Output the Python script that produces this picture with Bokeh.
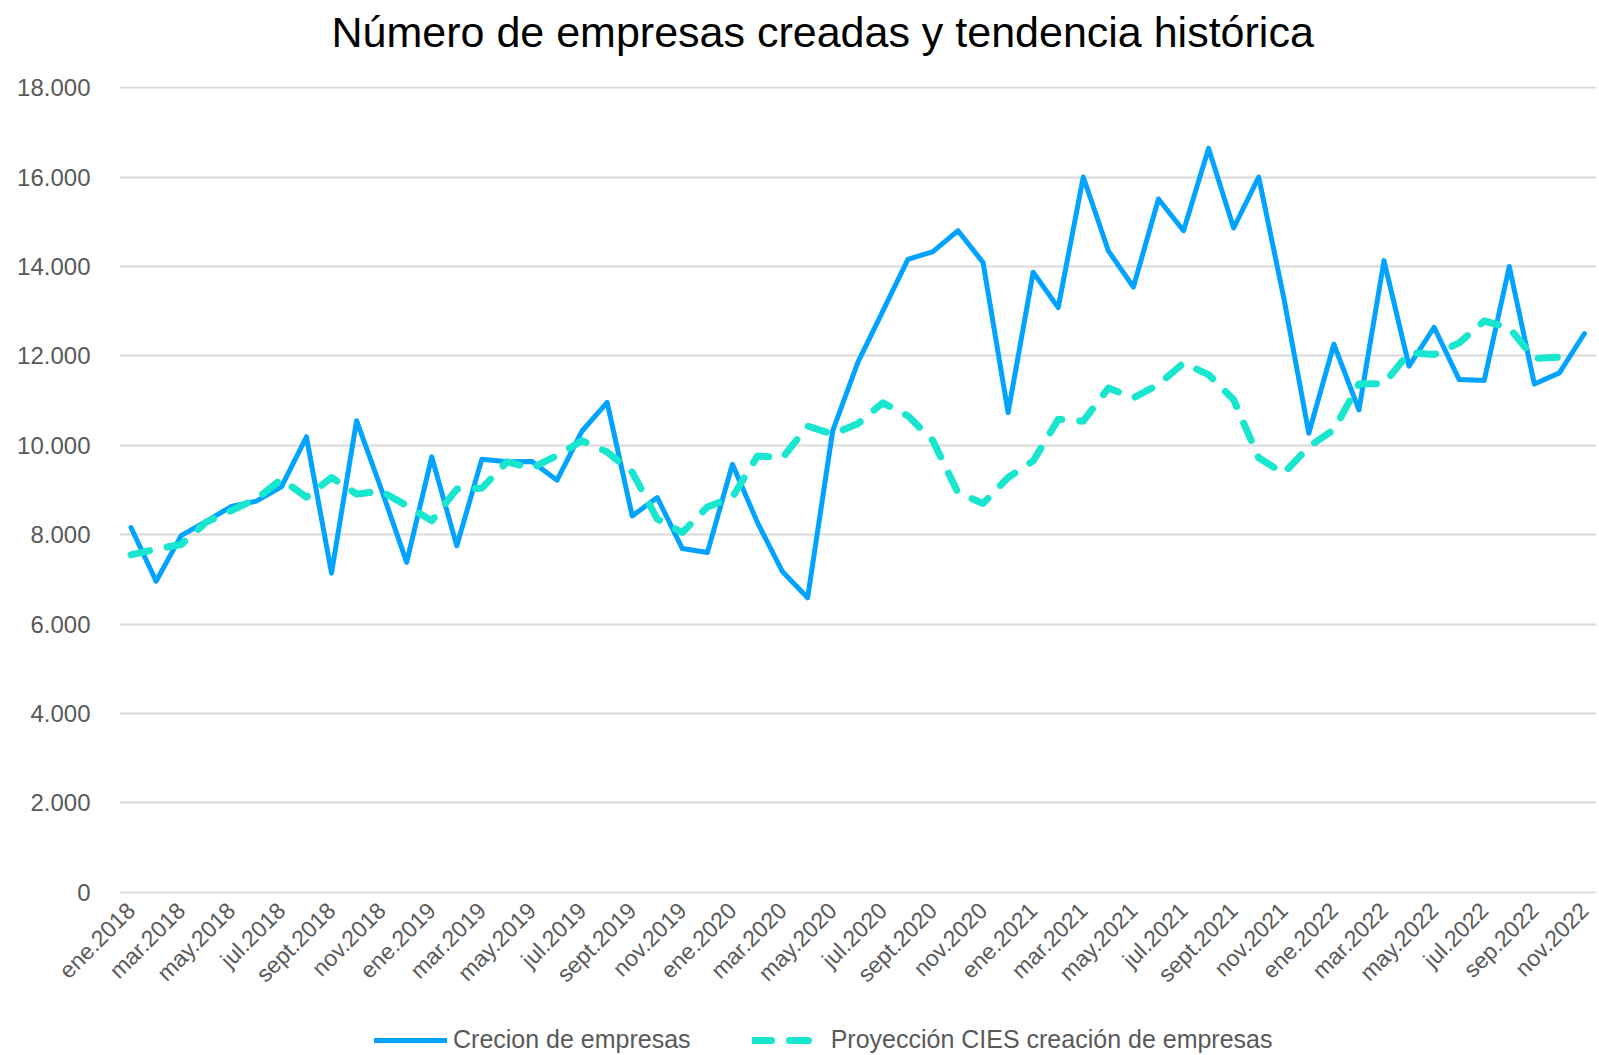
import math
from bokeh.plotting import figure
from bokeh.layouts import column
from bokeh.models import Range1d, FixedTicker, Legend, LegendItem, Title
from bokeh.embed import file_html
from bokeh.resources import INLINE

months = [
    "ene.2018", "feb.2018", "mar.2018", "abr.2018", "may.2018", "jun.2018",
    "jul.2018", "ago.2018", "sept.2018", "oct.2018", "nov.2018", "dic.2018",
    "ene.2019", "feb.2019", "mar.2019", "abr.2019", "may.2019", "jun.2019",
    "jul.2019", "ago.2019", "sept.2019", "oct.2019", "nov.2019", "dic.2019",
    "ene.2020", "feb.2020", "mar.2020", "abr.2020", "may.2020", "jun.2020",
    "jul.2020", "ago.2020", "sept.2020", "oct.2020", "nov.2020", "dic.2020",
    "ene.2021", "feb.2021", "mar.2021", "abr.2021", "may.2021", "jun.2021",
    "jul.2021", "ago.2021", "sept.2021", "oct.2021", "nov.2021", "dic.2021",
    "ene.2022", "feb.2022", "mar.2022", "abr.2022", "may.2022", "jun.2022",
    "jul.2022", "ago.2022", "sep.2022", "oct.2022", "nov.2022",
]

creacion = [
    8160, 6960, 7980, 8300, 8630, 8750, 9070, 10190, 7140, 10550,
    9000, 7380, 9740, 7750, 9690, 9630, 9640, 9220, 10320, 10960,
    8420, 8830, 7690, 7600, 9575, 8270, 7170, 6590, 10320, 11850,
    13000, 14160, 14330, 14800, 14090, 10730, 13870, 13080, 16000, 14350,
    13540, 15510, 14800, 16640, 14860, 16000, 13300, 10270, 12260, 10790,
    14130, 11770, 12640, 11470, 11450, 14000, 11370, 11620, 12500,
]

proyeccion = [
    7550, 7680, 7780, 8280, 8540, 8800, 9240, 8840, 9280, 8910,
    8970, 8650, 8310, 9020, 9040, 9630, 9490, 9770, 10100, 9850,
    9400, 8350, 8050, 8620, 8840, 9760, 9720, 10430, 10250, 10480,
    10950, 10660, 10100, 8940, 8700, 9280, 9650, 10580, 10540, 11280,
    11060, 11360, 11840, 11580, 11020, 9720, 9370, 9970, 10350, 11370,
    11380, 12070, 12030, 12290, 12780, 12630, 11940, 11970, math.nan,
]

y_ticks = [0, 2000, 4000, 6000, 8000, 10000, 12000, 14000, 16000, 18000]
y_tick_labels = ["0", "2.000", "4.000", "6.000", "8.000", "10.000",
                 "12.000", "14.000", "16.000", "18.000"]

title_text = "Número de empresas creadas y tendencia histórica"
series_names = ["Crecion de empresas", "Proyección CIES creación de empresas"]

FONT = "Liberation Sans"
GREY = "#595959"
BLUE = "#00a3ff"
TEAL = "#18e6cf"

x = list(range(len(months)))

p = figure(
    width=1599, height=1010,
    output_backend="svg", toolbar_location=None,
    title_location=None,
    x_range=Range1d(-0.46, len(months) - 1 + 0.48),
    y_range=Range1d(-25, 18025),
    min_border_left=119, min_border_right=3,
    min_border_top=86, min_border_bottom=117,
)
p.outline_line_color = None
p.background_fill_color = "white"

# spacer between frame and title, then the title itself (added farther out)
spacer = Title(text=" ", text_font_size="1px", standoff=19)
p.add_layout(spacer, "above")
main_title = Title(text=title_text, text_font=FONT, text_font_size="43px",
                   text_font_style="normal", text_color="black",
                   align="left", offset=212, vertical_align="top", standoff=14)
p.add_layout(main_title, "above")

# axes
p.xaxis.ticker = FixedTicker(ticks=[i for i in x if i % 2 == 0])
p.xaxis.major_label_overrides = {i: months[i] for i in x}
p.xaxis.major_label_orientation = math.pi / 4
p.yaxis.ticker = FixedTicker(ticks=y_ticks)
p.yaxis.major_label_overrides = {t: l for t, l in zip(y_ticks, y_tick_labels)}
for ax in (p.xaxis, p.yaxis):
    ax.axis_line_color = None
    ax.major_tick_line_color = None
    ax.minor_tick_line_color = None
    ax.major_tick_out = 0
    ax.major_tick_in = 0
    ax.minor_tick_out = 0
    ax.minor_tick_in = 0
    ax.major_label_text_font = FONT
    ax.major_label_text_color = GREY
p.yaxis.major_label_text_font_size = "24px"
p.xaxis.major_label_text_font_size = "23px"
p.yaxis.major_label_standoff = 29
p.xaxis.major_label_standoff = 13

p.xgrid.grid_line_color = None
p.ygrid.grid_line_color = "#d9d9d9"
p.ygrid.grid_line_width = 2

blue_style = dict(line_color=BLUE, line_width=5, line_join="round", line_cap="round")
teal_style = dict(line_color=TEAL, line_width=7, line_dash="19 18",
                  line_join="round", line_cap="round")

r1 = p.line(x, creacion, **blue_style)
r2 = p.line(x, proyeccion, **teal_style)

# legend strip below the chart (its frame is aligned with the chart's frame);
# the series are drawn again there but fall outside its 0..1 range, so only
# their legend swatches are visible
pl = figure(
    width=1599, height=45,
    output_backend="svg", toolbar_location=None,
    title_location=None,
    x_axis_location=None, y_axis_location=None,
    x_range=Range1d(-0.46, len(months) - 1 + 0.48), y_range=Range1d(0, 1),
    min_border_left=0, min_border_right=0, min_border_top=0, min_border_bottom=0,
)
pl.outline_line_color = None
pl.xgrid.visible = False
pl.ygrid.visible = False
l1 = pl.line(x, creacion, **blue_style)
l2 = pl.line(x, proyeccion, **teal_style)

legend = Legend(
    items=[LegendItem(label=series_names[0], renderers=[l1]),
           LegendItem(label=series_names[1], renderers=[l2])],
    orientation="horizontal",
    location=(255, 1),
    glyph_width=73, glyph_height=26,
    label_text_font=FONT, label_text_font_size="25px",
    label_text_color=GREY, label_standoff=6, spacing=61,
    padding=0, margin=0,
    border_line_color=None, background_fill_alpha=0,
)
pl.add_layout(legend)

layout = column(p, pl, spacing=0)
open("out.html", "w").write(file_html(layout, INLINE))
